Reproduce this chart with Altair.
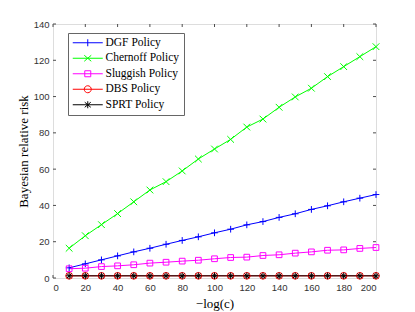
import altair as alt
import pandas as pd

x_vals = [10, 20, 30, 40, 50, 60, 70, 80, 90, 100, 110, 120, 130, 140, 150, 160, 170, 180, 190, 200]
dgf = [5.6, 7.8, 10.0, 12.2, 14.4, 16.4, 18.6, 20.7, 22.7, 24.9, 26.9, 29.3, 31.1, 33.4, 35.4, 37.8, 39.8, 42.0, 44.0, 46.0]
chernoff = [16.4, 23.3, 29.4, 35.5, 42.0, 48.5, 53.1, 59.0, 65.6, 71.1, 76.4, 83.2, 87.6, 94.1, 99.8, 104.6, 111.0, 116.5, 122.0, 127.5]
sluggish = [5.1, 5.4, 6.3, 6.7, 7.3, 8.2, 8.7, 9.3, 9.8, 10.6, 11.3, 11.5, 12.4, 12.8, 13.7, 14.4, 15.3, 15.5, 16.3, 16.8]
dbs = [1.2, 1.2, 1.2, 1.2, 1.2, 1.2, 1.2, 1.2, 1.2, 1.2, 1.2, 1.2, 1.2, 1.2, 1.2, 1.2, 1.2, 1.2, 1.2, 1.2]
sprt = [1.2, 1.2, 1.2, 1.2, 1.2, 1.2, 1.2, 1.2, 1.2, 1.2, 1.2, 1.2, 1.2, 1.2, 1.2, 1.2, 1.2, 1.2, 1.2, 1.2]

series_names = ["DGF Policy", "Chernoff Policy", "Sluggish Policy", "DBS Policy", "SPRT Policy"]
series_colors = ["#0000ff", "#00ff00", "#ff00ff", "#ff0000", "#000000"]
marker_shapes = [
    "M-1,0H1M0,-1V1",
    "M-1,-1L1,1M-1,1L1,-1",
    "M-0.85,-0.85H0.85V0.85H-0.85Z",
    "circle",
    "M-1,0H1M0,-1V1M-0.7,-0.7L0.7,0.7M-0.7,0.7L0.7,-0.7",
]
legend_paths = [
    "M-1,0H5M2,-0.7V0.7",
    "M-1,0H5M1.3,-0.6L2.7,0.6M1.3,0.6L2.7,-0.6",
    "M-1,0H5M1.4,-0.6H2.6V0.6H1.4Z",
    "M-1,0H5M2.7,0A0.7,0.7,0,1,1,1.3,0A0.7,0.7,0,1,1,2.7,0Z",
    "M-1,0H5M2,-0.7V0.7M1.4,-0.5L2.6,0.5M1.4,0.5L2.6,-0.5",
]
x_ticks = [0, 20, 40, 60, 80, 100, 120, 140, 160, 180, 200]
y_ticks = [0, 20, 40, 60, 80, 100, 120, 140]

W, H = 323, 254
AX = "#4d4d4d"

rows = []
for name, ys in zip(series_names, [dgf, chernoff, sluggish, dbs, sprt]):
    for xv, yv in zip(x_vals, ys):
        rows.append({"series": name, "x": xv, "y": yv})
df = pd.DataFrame(rows)
leg_df = pd.DataFrame({"series": series_names})

xs = alt.Scale(domain=[0, 200], nice=False)
ys_ = alt.Scale(domain=[0, 140], nice=False)
color_scale = alt.Scale(domain=series_names, range=series_colors)
shape_scale = alt.Scale(domain=series_names, range=legend_paths)

legend = alt.Legend(
    title=None, orient="none", legendX=15, legendY=9, padding=4,
    strokeColor="#666", fillColor="white", labelFont="Liberation Serif",
    labelFontSize=11.5, labelColor="black", symbolSize=100, symbolStrokeWidth=1,
    symbolOpacity=1, labelOffset=22, rowPadding=2.5, cornerRadius=0,
)

x_axis = alt.Axis(values=x_ticks, title="\u2212log(c)", titleFont="Liberation Serif",
                  titleFontSize=13, titleFontWeight="normal", titleColor="black",
                  titlePadding=6, labelFont="Liberation Sans", labelFontSize=9.5,
                  labelColor="#333333", labelPadding=4, ticks=False, domain=False,
                  grid=False, labelOverlap=False)
y_axis = alt.Axis(values=y_ticks, title="Bayesian relative risk", titleFont="Liberation Serif",
                  titleFontSize=13, titleFontWeight="normal", titleColor="black",
                  titlePadding=3, labelFont="Liberation Sans", labelFontSize=9.5,
                  labelColor="#333333", labelPadding=4, ticks=False, domain=False,
                  grid=False, labelOverlap=False)

X = lambda f: alt.X(f, scale=xs, axis=x_axis)
Y = lambda f: alt.Y(f, scale=ys_, axis=y_axis)
C = alt.Color("series:N", scale=color_scale, legend=legend)

base = alt.Chart(df)
lines = base.mark_line(strokeWidth=1).encode(
    x=X("x:Q"), y=Y("y:Q"), color=C, order=alt.Order("x:Q"),
)
point_layers = []
for name, shp in zip(series_names, marker_shapes):
    point_layers.append(
        base.transform_filter(alt.datum.series == name)
        .mark_point(filled=False, strokeWidth=1, size=45, opacity=1, shape=shp)
        .encode(x=X("x:Q"), y=Y("y:Q"), color=C)
    )
leg_layer = alt.Chart(leg_df).mark_point(filled=False, strokeWidth=1, size=100, opacity=0).encode(
    x=alt.value(0), y=alt.value(0),
    color=C,
    shape=alt.Shape("series:N", scale=shape_scale, legend=legend),
)

xt = pd.DataFrame({"t": x_ticks})
yt = pd.DataFrame({"t": y_ticks})
tick_bottom = alt.Chart(xt).mark_rule(color=AX, strokeWidth=1).encode(
    x=X("t:Q"), y=alt.value(H), y2=alt.value(H - 3))
tick_top = alt.Chart(xt).mark_rule(color=AX, strokeWidth=1).encode(
    x=X("t:Q"), y=alt.value(0), y2=alt.value(3))
tick_left = alt.Chart(yt).mark_rule(color=AX, strokeWidth=1).encode(
    y=Y("t:Q"), x=alt.value(0), x2=alt.value(3))
tick_right = alt.Chart(yt).mark_rule(color=AX, strokeWidth=1).encode(
    y=Y("t:Q"), x=alt.value(W), x2=alt.value(W - 3))

chart = alt.layer(tick_bottom, tick_top, tick_left, tick_right, lines, *point_layers, leg_layer).properties(
    width=W, height=H,
    autosize=alt.AutoSizeParams(type="none"),
    padding={"left": 45, "top": 16, "right": 30, "bottom": 33},
).configure_view(stroke=AX, strokeWidth=1).configure(background="white")

chart.save("out.html", embed_options={"renderer": "svg", "actions": False})
